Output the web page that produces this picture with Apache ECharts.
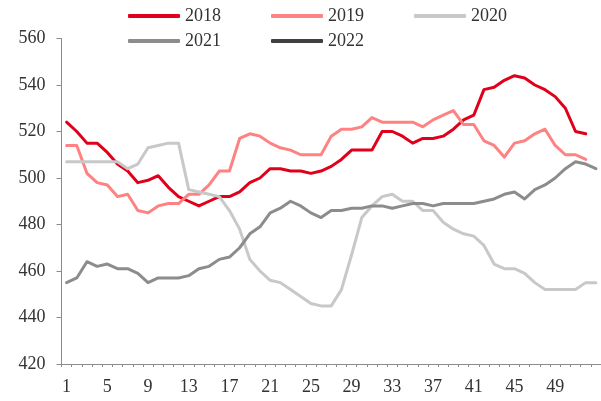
<!DOCTYPE html>
<html>
<head>
<meta charset="utf-8">
<script src="https://cdn.jsdelivr.net/npm/echarts@6/dist/echarts.min.js"></script>
<style>
html,body{margin:0;padding:0;background:#fff;overflow:hidden;}
#c{width:601px;height:401px;}
</style>
</head>
<body>
<div id="c"></div>
<script>
const weeks = Array.from({length: 53}, (_, i) => String(i + 1));
const seriesNames = ['2018', '2019', '2020', '2021', '2022'];
const y2018 = [524,520,515,515,511,506,503,498,499,501,496,492,490,488,490,492,492,494,498,500,504,504,503,503,502,503,505,508,512,512,512,520,520,518,515,517,517,518,521,525,527,538,539,542,544,543,540,538,535,530,520,519];
const y2019 = [514,514,502,498,497,492,493,486,485,488,489,489,493,493,497,503,503,517,519,518,515,513,512,510,510,510,518,521,521,522,526,524,524,524,524,522,525,527,529,523,523,516,514,509,515,516,519,521,514,510,510,508];
const y2020 = [507,507,507,507,507,507,504,506,513,514,515,515,495,494,493,492,486,478,465,460,456,455,452,449,446,445,445,452,467,483,488,492,493,490,490,486,486,481,478,476,475,471,463,461,461,459,455,452,452,452,452,455,455];
const y2021 = [455,457,464,462,463,461,461,459,455,457,457,457,458,461,462,465,466,470,476,479,485,487,490,488,485,483,486,486,487,487,488,488,487,488,489,489,488,489,489,489,489,490,491,493,494,491,495,497,500,504,507,506,504];
const y2022 = [];
const yTicks = {min: 420, max: 560, step: 20};

const colors = ['#E0001B', '#FF8282', '#C8C8C8', '#8C8C8C', '#404040'];
const font = '"Liberation Serif", "Times New Roman", serif';
const dataSets = [y2018, y2019, y2020, y2021, y2022];

const chart = echarts.init(document.getElementById('c'), null, {renderer: 'canvas'});
const legendCommon = {
  left: 123,
  itemWidth: 52,
  itemHeight: 4,
  itemGap: 50,
  icon: 'roundRect',
  textStyle: {fontFamily: font, fontSize: 18, color: '#333'}
};
chart.setOption({
  animation: false,
  color: colors,
  legend: [
    Object.assign({}, legendCommon, {top: 2, data: seriesNames.slice(0, 3)}),
    Object.assign({}, legendCommon, {top: 27, data: seriesNames.slice(3)})
  ],
  grid: {left: 61.5, right: -2.5, top: 38.5, bottom: 37, containLabel: false},
  xAxis: {
    type: 'category',
    data: weeks,
    boundaryGap: true,
    axisLine: {lineStyle: {color: '#8c8c8c', width: 1}},
    axisTick: {show: true, interval: 0, length: 3, lineStyle: {color: '#8c8c8c'}},
    axisLabel: {
      interval: (idx) => idx % 4 === 0 && idx < 52,
      margin: 14,
      fontFamily: font, fontSize: 18, color: '#333'
    },
    splitLine: {show: false}
  },
  yAxis: {
    type: 'value',
    min: yTicks.min, max: yTicks.max, interval: yTicks.step,
    axisLine: {show: true, lineStyle: {color: '#8c8c8c', width: 1}},
    axisTick: {show: true, length: 5, lineStyle: {color: '#8c8c8c'}},
    axisLabel: {margin: 16, fontFamily: font, fontSize: 18, color: '#333'},
    splitLine: {show: false}
  },
  series: seriesNames.map((n, i) => ({
    name: n,
    type: 'line',
    data: dataSets[i],
    showSymbol: false,
    symbol: 'none',
    lineStyle: {width: 3, color: colors[i], join: 'round', cap: 'round'},
    itemStyle: {color: colors[i]}
  }))
});
</script>
</body>
</html>
